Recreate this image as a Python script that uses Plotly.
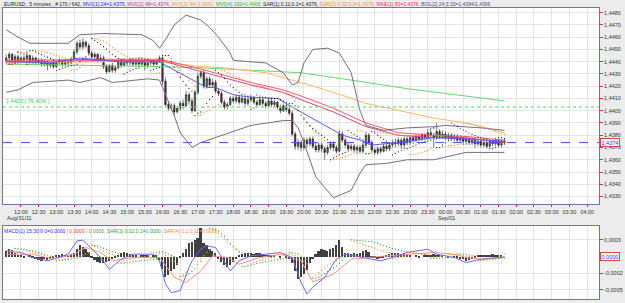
import plotly.graph_objects as go

# ---------------- data ----------------
tick_labels = ["12:00","12:30","13:00","13:30","14:00","14:30","15:00","15:30","16:00","16:30",
               "17:00","17:30","18:00","18:30","19:00","19:30","20:00","20:30","21:00","21:30",
               "22:00","22:30","23:00","23:30","00:00","00:30","01:00","01:30","02:00","02:30",
               "03:00","03:30","04:00"]
tick_bars = [5 + 6 * k for k in range(len(tick_labels))]   # bar number of each label (5-min bars from 11:35)

first_open = 1.4441
closes = [
 1.4443,1.4446,1.4441,1.4444,1.4440,1.4443,
 1.4442,1.4445,1.4441,1.4443,1.4440,1.4441,
 1.4438,1.4440,1.4437,1.4439,1.4436,1.4439,
 1.4441,1.4438,1.4440,1.4439,1.4442,1.4448,
 1.4455,1.4452,1.4456,1.4453,1.4447,1.4444,
 1.4446,1.4441,1.4443,1.4436,1.4432,1.4437,
 1.4433,1.4435,1.4440,1.4437,1.4441,1.4439,
 1.4442,1.4438,1.4441,1.4438,1.4440,1.4437,
 1.4439,1.4441,1.4438,1.4440,1.4443,1.4424,
 1.4405,1.4402,1.4404,1.4399,1.4402,1.4406,
 1.4404,1.4413,1.4408,1.4400,1.4415,1.4428,
 1.4431,1.4420,1.4426,1.4421,1.4423,1.4416,
 1.4414,1.4407,1.4403,1.4405,1.4410,1.4408,
 1.4411,1.4407,1.4410,1.4406,1.4409,1.4411,
 1.4407,1.4405,1.4409,1.4406,1.4404,1.4408,
 1.4405,1.4407,1.4403,1.4400,1.4404,1.4401,
 1.4398,1.4381,1.4371,1.4374,1.4370,1.4376,
 1.4373,1.4377,1.4371,1.4368,1.4372,1.4369,
 1.4366,1.4370,1.4373,1.4370,1.4367,1.4381,
 1.4376,1.4372,1.4369,1.4371,1.4368,1.4370,
 1.4367,1.4372,1.4380,1.4374,1.4368,1.4366,
 1.4369,1.4367,1.4371,1.4369,1.4372,1.4374,
 1.4373,1.4376,1.4372,1.4377,1.4374,1.4378,
 1.4376,1.4379,1.4377,1.4380,1.4378,1.4382,
 1.4380,1.4378,1.4383,1.4379,1.4381,1.4378,
 1.4380,1.4377,1.4379,1.4376,1.4378,1.4375,
 1.4377,1.4374,1.4376,1.4373,1.4375,1.4372,
 1.4374,1.4371,1.4375,1.4373,1.4376,1.4372,
 1.4375,1.4374]
highs = [
 1.4446,1.4448,1.4447,1.4446,1.4446,1.4445,
 1.4445,1.4449,1.4446,1.4445,1.4444,1.4443,
 1.4443,1.4442,1.4441,1.4440,1.4440,1.4441,
 1.4443,1.4442,1.4442,1.4441,1.4444,1.4450,
 1.4457,1.4458,1.4459,1.4457,1.4455,1.4449,
 1.4448,1.4447,1.4446,1.4445,1.4438,1.4438,
 1.4439,1.4437,1.4442,1.4442,1.4443,1.4442,
 1.4443,1.4443,1.4443,1.4442,1.4442,1.4441,
 1.4441,1.4442,1.4442,1.4442,1.4445,1.4445,
 1.4427,1.4408,1.4406,1.4406,1.4404,1.4408,
 1.4409,1.4416,1.4415,1.4410,1.4417,1.4431,
 1.4433,1.4433,1.4428,1.4428,1.4426,1.4425,
 1.4418,1.4416,1.4409,1.4407,1.4412,1.4412,
 1.4413,1.4413,1.4412,1.4411,1.4411,1.4413,
 1.4412,1.4409,1.4411,1.4410,1.4408,1.4410,
 1.4410,1.4409,1.4408,1.4405,1.4406,1.4406,
 1.4404,1.4400,1.4383,1.4377,1.4376,1.4378,
 1.4378,1.4379,1.4379,1.4374,1.4374,1.4374,
 1.4371,1.4372,1.4375,1.4375,1.4372,1.4384,
 1.4383,1.4378,1.4374,1.4373,1.4373,1.4372,
 1.4372,1.4374,1.4383,1.4382,1.4376,1.4370,
 1.4371,1.4371,1.4373,1.4373,1.4374,1.4376,
 1.4377,1.4378,1.4378,1.4379,1.4379,1.4380,
 1.4380,1.4381,1.4381,1.4382,1.4382,1.4385,
 1.4386,1.4382,1.4390,1.4385,1.4384,1.4383,
 1.4382,1.4382,1.4381,1.4381,1.4380,1.4379,
 1.4379,1.4378,1.4378,1.4378,1.4377,1.4377,
 1.4376,1.4376,1.4377,1.4377,1.4378,1.4377,
 1.4377,1.4377]
lows = [
 1.4438,1.4441,1.4439,1.4440,1.4438,1.4439,
 1.4440,1.4441,1.4439,1.4440,1.4437,1.4438,
 1.4436,1.4436,1.4433,1.4435,1.4434,1.4435,
 1.4437,1.4436,1.4437,1.4437,1.4438,1.4441,
 1.4446,1.4450,1.4450,1.4451,1.4446,1.4442,
 1.4442,1.4439,1.4440,1.4434,1.4430,1.4431,
 1.4431,1.4431,1.4434,1.4435,1.4436,1.4437,
 1.4437,1.4436,1.4436,1.4434,1.4436,1.4433,
 1.4435,1.4437,1.4436,1.4437,1.4439,1.4421,
 1.4403,1.4400,1.4400,1.4396,1.4398,1.4400,
 1.4401,1.4403,1.4405,1.4398,1.4399,1.4413,
 1.4426,1.4418,1.4418,1.4419,1.4419,1.4414,
 1.4412,1.4405,1.4401,1.4401,1.4404,1.4406,
 1.4406,1.4405,1.4406,1.4404,1.4404,1.4407,
 1.4405,1.4403,1.4404,1.4404,1.4402,1.4403,
 1.4403,1.4403,1.4401,1.4398,1.4399,1.4399,
 1.4396,1.4379,1.4368,1.4368,1.4367,1.4368,
 1.4370,1.4371,1.4369,1.4366,1.4366,1.4366,
 1.4360,1.4364,1.4368,1.4367,1.4365,1.4366,
 1.4374,1.4370,1.4366,1.4367,1.4366,1.4365,
 1.4365,1.4365,1.4370,1.4372,1.4366,1.4364,
 1.4364,1.4365,1.4366,1.4367,1.4367,1.4370,
 1.4370,1.4371,1.4369,1.4370,1.4372,1.4372,
 1.4373,1.4374,1.4375,1.4375,1.4376,1.4376,
 1.4378,1.4370,1.4376,1.4377,1.4377,1.4376,
 1.4376,1.4375,1.4375,1.4374,1.4374,1.4372,
 1.4372,1.4372,1.4372,1.4370,1.4371,1.4370,
 1.4370,1.4369,1.4370,1.4371,1.4371,1.4370,
 1.4370,1.4372]
opens = [first_open] + closes[:-1]
bars = list(range(len(closes)))

# indicator lines (bar number, value)
ma24_bars = [0,15,25,38,52,54,61,68,71,77,83,92,97,103,109,114,120,124,133,145,156,169]
ma24_vals = [1.4440,1.4439,1.4443,1.4440,1.4440,1.4437,1.4428,1.4419,1.4419,1.4413,1.4411,1.4410,
             1.4403,1.4395,1.4387,1.4380,1.4376,1.4372,1.4374,1.4378,1.4377,1.4375]
ma48_bars = [0,32,52,54,66,72,83,94,100,111,122,133,145,156,169]
ma48_vals = [1.4440,1.4441,1.4441,1.4440,1.4432,1.4428,1.4421,1.4415,1.4409,1.4399,1.4387,1.4380,1.4378,1.4378,1.4374]
mae50_vals = [1.4441,1.4442,1.4442,1.4441,1.4434,1.4430,1.4423,1.4417,1.4412,1.4402,1.4390,1.4382,1.4380,1.4379,1.4376]
ma96_bars = [0,32,52,66,74,88,100,111,122,134,145,156,169]
ma96_vals = [1.4439,1.4440,1.4440,1.4436,1.4435,1.4431,1.4423,1.4415,1.4406,1.4400,1.4394,1.4390,1.4382]
ma192_bars = [0,32,52,66,83,100,117,136,169]
ma192_vals = [1.4438,1.4437,1.4436,1.4435,1.4433,1.4431,1.4425,1.4418,1.4408]
bbu_bars = [0,4,8,15,21,25,33,46,50,52,54,57,61,66,69,72,76,77,88,94,97,99,101,104,109,113,117,120,122,128,136,145,149,161,169]
bbu_vals = [1.4466,1.4460,1.4455,1.4455,1.4455,1.4462,1.4463,1.4462,1.4457,1.4451,1.4458,1.4470,1.4478,
            1.4474,1.4468,1.4460,1.4447,1.4441,1.4439,1.4431,1.4421,1.4423,1.4439,1.4450,1.4451,1.4447,
            1.4431,1.4400,1.4388,1.4384,1.4386,1.4387,1.4388,1.4386,1.4384]
bbl_bars = [0,4,9,21,25,32,36,48,52,54,57,59,63,66,71,77,83,94,97,99,101,105,111,117,120,122,129,136,145,156,169]
bbl_vals = [1.4415,1.4417,1.4423,1.4425,1.4423,1.4427,1.4423,1.4426,1.4425,1.4414,1.4396,1.4382,1.4370,
            1.4374,1.4378,1.4383,1.4388,1.4392,1.4392,1.4386,1.4374,1.4346,1.4329,1.4335,1.4349,1.4356,
            1.4357,1.4360,1.4360,1.4366,1.4366]
fibo_level = 1.4403
last_price = 1.4374

# MACD panel (values x 1e-5)
hist = [8,12,10,6,3,1,-1,0,2,-2,-3,-5,-6,-4,-5,-3,-2,1,3,4,2,3,4,6,12,17,15,11,7,
        -2,-5,-8,-10,-9,-8,-6,-4,-2,3,5,7,6,4,2,1,0,1,2,1,0,1,2,
        -5,-18,-30,-28,-22,-18,-12,-2,5,12,20,22,25,27,42,20,17,12,9,5,
        -3,-8,-12,-15,-12,-8,-4,2,4,5,6,5,4,5,6,4,3,2,3,1,0,-1,0,-2,-3,
        -10,-22,-33,-30,-26,-20,-10,-4,4,8,12,10,9,11,13,18,25,15,6,5,4,5,4,5,8,10,7,
        -1,-2,-3,-2,-1,2,4,5,5,6,4,5,3,1,0,1,-1,0,1,2,3,4,3,2,1,0,-1,0,-1,-2,-3,
        -4,-6,-5,-4,-2,1,2,3,2,3,4,3,2,1,0]
macd_bars = [0,5,9,14,21,24,26,28,32,35,39,43,50,52,54,56,59,62,63,66,68,71,74,76,79,83,88,93,97,
             100,102,104,108,110,112,115,121,127,131,136,143,146,152,156,161,169]
macd_vals = [8.5,6,-1.5,-6.5,3.5,23.5,24.5,16,-1.5,-19,-4,3.5,3.5,-6.5,-41,-54,-51,-16.5,-6.5,11,16,13.5,
             -6.5,-21.5,-6.5,1,3.5,6,-1.5,-39,-56,-46,-31,-16.5,-4,3.5,-1.5,-6.5,-1.5,6,11,3.5,-1.5,-9,-4,-0.5]
sig_bars = [0,9,16,23,27,32,36,43,52,57,61,66,70,75,79,86,93,100,104,111,117,122,129,137,145,152,156,161,169]
sig_vals = [3.5,3.5,-4,3.5,13.5,6,-6.5,-1.5,-1.5,-31,-39,-21.5,1,-1.5,-11.5,-1.5,3.5,-6.5,-38,-26.5,-4,
            -1.5,1,3.5,6,3.5,-1.5,-4,-1.5]

# ---------------- helpers ----------------
def psar(high, low, step, amax):
    n = len(high)
    out = [None] * n
    bull = high[1] >= high[0]
    af = step
    ep = high[0] if bull else low[0]
    sar = low[0] if bull else high[0]
    for i in range(1, n):
        sar = sar + af * (ep - sar)
        if bull:
            sar = min(sar, low[i - 1], low[i - 2] if i > 1 else low[i - 1])
            if low[i] < sar:
                bull = False; sar = ep; ep = low[i]; af = step
            elif high[i] > ep:
                ep = high[i]; af = min(af + step, amax)
        else:
            sar = max(sar, high[i - 1], high[i - 2] if i > 1 else high[i - 1])
            if high[i] > sar:
                bull = True; sar = ep; ep = high[i]; af = step
            elif low[i] < ep:
                ep = low[i]; af = min(af + step, amax)
        out[i] = sar
    return out

sar1 = psar(highs, lows, 0.10, 0.11)
sar2 = psar(highs, lows, 0.02, 0.2)
hist_v = [h * 1e-5 for h in hist]
sar3 = psar(hist_v, hist_v, 0.02, 0.2)
sar4 = psar(hist_v, hist_v, 0.1, 0.11)

def fmt(v, nd=4):
    return f"{v:.{nd}f}".replace(".", ",")

# ---------------- figure ----------------
W, H = 625, 303
def px_x(p): return p / W
def px_y(p): return 1 - p / H

fig = go.Figure()
FONT = "Liberation Sans, Arial, sans-serif"

def line(xs, ys, color, width=1, dash=None, xa="x", ya="y"):
    fig.add_trace(go.Scatter(x=xs, y=ys, mode="lines", xaxis=xa, yaxis=ya,
                             line=dict(color=color, width=width, dash=dash), hoverinfo="skip"))

line(ma192_bars, ma192_vals, "#6ad66a")
line(ma96_bars, ma96_vals, "#ffb860")
line(ma48_bars, mae50_vals, "#ff5a6a")
line(ma48_bars, ma48_vals, "#e0408a")
line(ma24_bars, ma24_vals, "#5a5aee")
line(bbu_bars, bbu_vals, "#7a6a86")
line(bbl_bars, bbl_vals, "#7a6a86")

fig.add_trace(go.Candlestick(
    x=bars, open=opens, high=highs, low=lows, close=closes, xaxis="x", yaxis="y",
    increasing=dict(fillcolor="#3d9a3d", line=dict(color="#1a1a1a", width=0.6)),
    decreasing=dict(fillcolor="#7a1f4a", line=dict(color="#1a1a1a", width=0.6)),
    whiskerwidth=0, hoverinfo="skip"))

fig.add_trace(go.Scatter(x=bars, y=sar2, mode="markers", xaxis="x", yaxis="y",
                         marker=dict(color="#ff9a3c", size=1.5, line=dict(width=0)), hoverinfo="skip"))
fig.add_trace(go.Scatter(x=bars, y=sar1, mode="markers", xaxis="x", yaxis="y",
                         marker=dict(color="#111111", size=1.2, line=dict(width=0)), hoverinfo="skip"))

# MACD panel
fig.add_trace(go.Bar(x=bars, y=hist_v, xaxis="x2", yaxis="y2", width=0.6,
                     marker=dict(color="#404040", line=dict(width=0)), hoverinfo="skip"))
line(sig_bars, [v * 1e-5 for v in sig_vals], "#ff9090", xa="x2", ya="y2")
line(macd_bars, [v * 1e-5 for v in macd_vals], "#6a6af0", xa="x2", ya="y2")
fig.add_trace(go.Scatter(x=bars, y=sar3, mode="markers", xaxis="x2", yaxis="y2",
                         marker=dict(color="#2aa84a", size=1.3, line=dict(width=0)), hoverinfo="skip"))
fig.add_trace(go.Scatter(x=bars, y=sar4, mode="markers", xaxis="x2", yaxis="y2",
                         marker=dict(color="#ff8a1e", size=1.3, line=dict(width=0)), hoverinfo="skip"))

xr = [-1.1, 201.07]
xdom = [px_x(3), px_x(599)]
price_ticks = [1.4330 + 0.001 * k for k in range(16)]
grid = "#e4e4e4"
tf = dict(family=FONT, size=5.5, color="#333333")

fig.update_layout(
    width=W, height=H, margin=dict(l=0, r=0, t=0, b=0),
    paper_bgcolor="#ececec", plot_bgcolor="#ffffff", showlegend=False, bargap=0,
    xaxis=dict(domain=xdom, range=xr, anchor="y", tickvals=tick_bars, ticktext=tick_labels,
               tickfont=tf, ticks="outside", ticklen=2, tickcolor="#e03030",
               showgrid=True, gridcolor=grid, gridwidth=1, zeroline=False,
               showline=True, linecolor="#7070c0", mirror=True, rangeslider=dict(visible=False)),
    yaxis=dict(domain=[px_y(204), px_y(8)], range=[1.43239, 1.44838], side="right",
               tickvals=price_ticks, ticktext=[fmt(v) for v in price_ticks], tickfont=tf,
               ticks="outside", ticklen=3, tickcolor="#e03030", showgrid=True, gridcolor=grid,
               zeroline=False, showline=True, linecolor="#777777", mirror=True),
    xaxis2=dict(domain=xdom, range=xr, anchor="y2", matches="x", tickvals=tick_bars,
                showticklabels=False, ticks="", showgrid=True, gridcolor=grid, zeroline=False,
                showline=True, linecolor="#7070c0", mirror=True),
    yaxis2=dict(domain=[px_y(299), px_y(226)], range=[-0.000636, 0.000457], side="right",
                tickvals=[0.00025, -0.00025, -0.0005], ticktext=["0,0003", "-0,0002", "-0,0005"],
                tickfont=tf, ticks="outside", ticklen=3, tickcolor="#e03030",
                showgrid=True, gridcolor=grid, zeroline=False,
                showline=True, linecolor="#777777", mirror=True),
)

# horizontal level lines
fig.add_shape(type="line", xref="x domain", yref="y", x0=0, x1=1, y0=fibo_level, y1=fibo_level,
              line=dict(color="#88e888", width=1.5, dash="dot"))
fig.add_shape(type="line", xref="x domain", yref="y", x0=0, x1=1, y0=last_price, y1=last_price,
              line=dict(color="#4a4aff", width=1, dash="dash"))

# texts
hdr = ('EURUSD , 5 minutes , # 170 / 642, '
       '<span style="color:#2a2aff">MV0(1) 24=1,4375, </span>'
       '<span style="color:#d0309a">MV0(2) 48=1,4374, </span>'
       '<span style="color:#ffa030">MV0(3) 96=1,4382, </span>'
       '<span style="color:#30c030">MV0(4) 192=1,4408, </span>'
       'SAR(1) 0.11;0.1=1,4376, '
       '<span style="color:#ff9020">SAR(2) 0.02;0.2=1,4379, </span>'
       '<span style="color:#ff3050">MAE(1) 50=1,4376, </span>'
       '<span style="color:#604870">BOL(2) 24;3.33=1,4384/1,4366</span>')
fig.add_annotation(xref="paper", yref="paper", x=px_x(2), y=px_y(4), text=hdr, showarrow=False,
                   xanchor="left", yanchor="middle", font=dict(family=FONT, size=5, color="#222222"))
mh = ('<span style="color:#2a2aff">MACD(1) 15;30;9 0=0,0000</span>'
      '<span style="color:#ff3030"> | 0,0000</span>'
      '<span style="color:#777777"> | 0,0000, </span>'
      '<span style="color:#30a040">SAR(3) 0.02;0.2=0,0000, </span>'
      '<span style="color:#ff8a1e">SAR(4) 0.1;0.11=0,0000</span>')
fig.add_annotation(xref="paper", yref="paper", x=px_x(2), y=px_y(230.5), text=mh, showarrow=False,
                   xanchor="left", yanchor="middle", font=dict(family=FONT, size=5))
fig.add_annotation(xref="paper", yref="paper", x=px_x(19), y=px_y(217.5), text="Aug/31/11",
                   showarrow=False, xanchor="center", yanchor="middle", font=tf)
fig.add_annotation(xref="paper", yref="paper", x=px_x(446), y=px_y(218), text="Sep/01",
                   showarrow=False, xanchor="center", yanchor="middle", font=tf)
fig.add_annotation(xref="paper", yref="y", x=px_x(4), y=fibo_level, text=fmt(fibo_level) + " ( 76,40% )",
                   showarrow=False, xanchor="left", yanchor="bottom", yshift=1,
                   font=dict(family=FONT, size=5.5, color="#40d040"))
fig.add_annotation(xref="paper", yref="y", x=px_x(600), y=last_price, text=fmt(last_price),
                   showarrow=False, xanchor="left", yanchor="middle", bgcolor="#ffffff",
                   bordercolor="#e04040", borderwidth=1, borderpad=0.5,
                   font=dict(family=FONT, size=5.5, color="#2a2aff"))
fig.add_annotation(xref="paper", yref="y2", x=px_x(600), y=0, text="0,0000",
                   showarrow=False, xanchor="left", yanchor="middle", bgcolor="#ffffff",
                   bordercolor="#e04040", borderwidth=1, borderpad=0.5,
                   font=dict(family=FONT, size=5.5, color="#2a2aff"))

fig.write_html("out.html")
